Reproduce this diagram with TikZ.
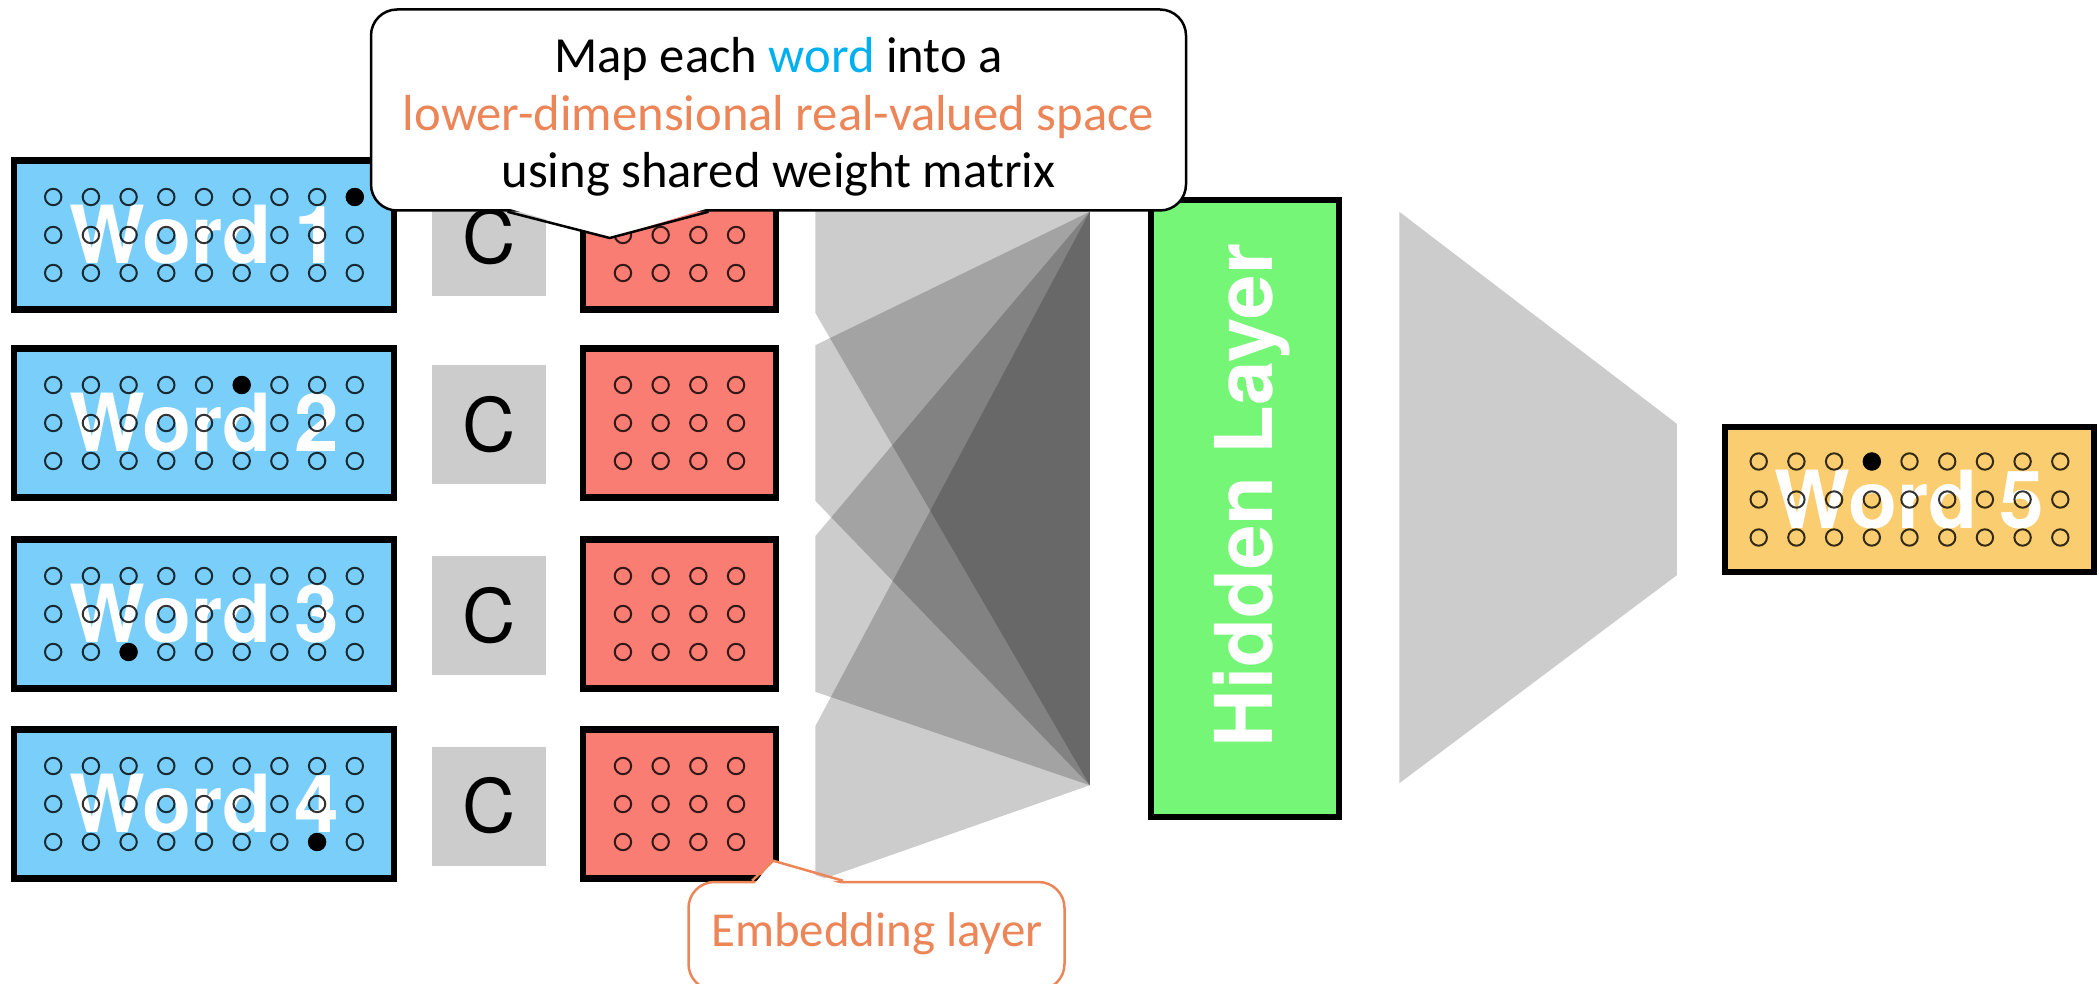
\documentclass[tikz,border=0pt]{standalone}
\usepackage{fontspec}
\setmainfont{Carlito}
\newfontfamily\helv{TeX Gyre Heros}
\usepackage{xcolor}
\usepackage{tikz}
\usetikzlibrary{positioning, calc}

\definecolor{wordblue}{RGB}{0,176,240}
\definecolor{embtext}{RGB}{236,134,88}
\definecolor{inblue}{RGB}{122,207,250}
\definecolor{embred}{RGB}{250,125,116}
\definecolor{hidgreen}{RGB}{118,246,118}
\definecolor{outgold}{RGB}{250,206,112}
\definecolor{cgray}{RGB}{204,204,204}

\tikzset{
  layerbox/.style={draw=black, line width=0.65mm, inner sep=0pt},
  wordbox/.style={layerbox, fill=inblue, minimum width=38mm, minimum height=14.9mm,
    text=white, font=\helv\bfseries\fontsize{22.8}{25}\selectfont},
  embbox/.style={layerbox, fill=embred, minimum width=19.3mm, minimum height=14.9mm},
  cbox/.style={fill=cgray, minimum width=11.4mm, minimum height=11.9mm, inner sep=0pt,
    font=\helv\fontsize{21}{24}\selectfont},
  unitdot/.style={draw=black, draw opacity=0.8, line width=0.2mm},
  fan/.style={fill=black, fill opacity=0.2},
  note/.style={draw, fill=white, rounded corners=2.6mm, line width=0.25mm, inner sep=0pt},
  notetext/.style={align=center, font=\fontsize{14.4}{16.4}\selectfont, inner sep=0pt},
}

\begin{document}
\begin{tikzpicture}[x=0.1mm, y=-0.1mm]
    \useasboundingbox (0,0) rectangle (2099,984);

    % Hidden layer, fed by one fan per context word
    \node[layerbox, fill=hidgreen, minimum width=18.8mm, minimum height=61.7mm] (hidden) at (1245,508.5) {};
    \node[rotate=90, text=white, font=\helv\bfseries\fontsize{22.7}{25}\selectfont] (hidlabel)
        at ($(hidden)+(7,-13)$) {Hidden Layer};
    \coordinate (hin top) at ($(hidden.north west)+(-58,15)$);
    \coordinate (hin bot) at ($(hidden.south west)+(-58,-35)$);

    % Output word
    \node[wordbox, fill=outgold, minimum width=36.9mm, minimum height=14.5mm] (word5) at (1909.5,499.5) {Word 5};
    \foreach \col in {1,...,9}
        \foreach \row in {1,2,3}
            \draw[unitdot] ($(word5)+({(\col-5)*37.7},{(\row-2)*38})$) circle[radius=0.82mm];
    \fill ($(word5)+(-37.7,-38)$) circle[radius=0.9mm];
    \fill[fan] ($(hidden.north east)+(57,15)$) -- ($(word5.north west)+(-45,0)$)
        -- ($(word5.south west)+(-45,0)$) -- ($(hidden.south east)+(57,-37)$) -- cycle;

    % Context words, shared matrix C and their embeddings
    \foreach \n/\yc/\hc/\hr in {1/235/9/1, 2/423/6/1, 3/614/3/3, 4/804/8/3} {
        \node[wordbox] (word\n) at (204,\yc) {Word \n};
        \node[cbox] (c\n) at (489,\yc+2) {C};
        \node[embbox] (emb\n) at (679.5,\yc) {};
        \foreach \col in {1,...,9}
            \foreach \row in {1,2,3}
                \draw[unitdot] ($(word\n)+({(\col-5)*37.7},{(\row-2)*38})$) circle[radius=0.82mm];
        \fill ($(word\n)+({(\hc-5)*37.7},{(\hr-2)*38})$) circle[radius=0.9mm];
        \foreach \col in {1,...,4}
            \foreach \row in {1,2,3}
                \draw[unitdot] ($(emb\n)+({(\col-2.5)*37.7},{(\row-2)*38})$) circle[radius=0.82mm];
        \fill[fan] ($(emb\n.north east)+(36,0)$) -- (hin top) -- (hin bot) -- ($(emb\n.south east)+(36,0)$) -- cycle;
    }

    % Callouts
    \node[note, minimum width=81.5mm, minimum height=20.1mm] (mapnote) at (778.5,110) {};
    \node[notetext] (maptext) at (778.5,117)
        {Map each \textcolor{wordblue}{word} into a\\
         \textcolor{embtext}{lower-dimensional real-valued space}\\
         using shared weight matrix};
    \coordinate (maptip) at ($(emb1.west)+(30,3)$);
    \fill[white] ($(mapnote.south)+(-269,-3)$) -- (maptip) -- ($(mapnote.south)+(-72,-3)$) -- cycle;
    \draw[line width=0.25mm] ($(mapnote.south)+(-271,0)$) -- (maptip) -- ($(mapnote.south)+(-70,0)$);

    \node[note, draw=embtext, minimum width=37.6mm, minimum height=10.8mm] (embnote) at (876.5,936) {};
    \node[notetext, text=embtext, font=\fontsize{13.9}{16}\selectfont] (embtext) at (877,934) {Embedding layer};
    \coordinate (embtip) at ($(emb4.south east)+(-6,-21)$);
    \fill[white] ($(embnote.north)+(-122,3)$) -- (embtip) -- ($(embnote.north)+(-36,3)$) -- cycle;
    \draw[embtext, line width=0.25mm] ($(embnote.north)+(-124.5,0)$) -- (embtip) -- ($(embnote.north)+(-33.5,0)$);

\end{tikzpicture}
\end{document}
